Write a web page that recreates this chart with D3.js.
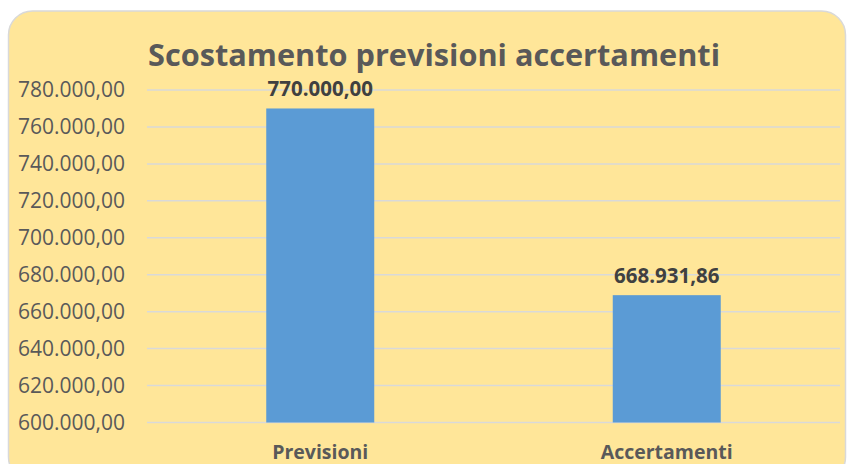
<!DOCTYPE html>
<html>
<head>
<meta charset="utf-8">
<script src="https://cdn.jsdelivr.net/npm/d3@7"></script>
<style>
  html, body { margin: 0; padding: 0; background: #fff; }
  svg { display: block; }
</style>
</head>
<body>
<svg id="chart" width="847" height="464"></svg>
<script>
// chart data
const categories = ["Previsioni", "Accertamenti"];
const values = [770000.00, 668931.86];
const yTicks = [600000, 620000, 640000, 660000, 680000, 700000, 720000, 740000, 760000, 780000];

const w = 847, h = 464;
const plot = { left: 147, right: 840, top: 90, bottom: 422.5 };
const font = "'Open Sans', 'DejaVu Sans', sans-serif";

// italian number format: 770.000,00
const it = d3.formatLocale({ decimal: ",", thousands: ".", grouping: [3], currency: ["€", ""] });
const fmt = it.format(",.2f");

const svg = d3.select("#chart");

// rounded panel
svg.append("rect")
  .attr("x", 8.5).attr("y", 11)
  .attr("width", 837).attr("height", 470)
  .attr("rx", 24).attr("ry", 24)
  .attr("fill", "#FFE699")
  .attr("stroke", "#D9D9D9")
  .attr("stroke-width", 1.5);

const x = d3.scaleBand()
  .domain(categories)
  .range([plot.left, plot.right]);

const y = d3.scaleLinear()
  .domain([600000, 780000])
  .range([plot.bottom, plot.top]);

// gridlines
svg.append("g")
  .selectAll("line")
  .data(yTicks)
  .join("line")
  .attr("x1", plot.left).attr("x2", plot.right)
  .attr("y1", d => y(d)).attr("y2", d => y(d))
  .attr("stroke", "#D9D9D9")
  .attr("stroke-width", 1.5);

// y axis labels
const yAxis = d3.axisLeft(y)
  .tickValues(yTicks)
  .tickSize(0)
  .tickPadding(0)
  .tickFormat(fmt);

svg.append("g")
  .attr("transform", `translate(125,0)`)
  .call(yAxis)
  .call(g => g.select(".domain").remove())
  .call(g => g.selectAll("text")
    .attr("fill", "#595959")
    .attr("font-family", font)
    .attr("font-size", "21px"));

// bars
const barW = 108;
svg.append("g")
  .selectAll("rect")
  .data(values)
  .join("rect")
  .attr("x", (d, i) => x(categories[i]) + x.bandwidth() / 2 - barW / 2)
  .attr("y", d => y(d))
  .attr("width", barW)
  .attr("height", d => y(600000) - y(d))
  .attr("fill", "#5B9BD5");

// value labels
svg.append("g")
  .selectAll("text")
  .data(values)
  .join("text")
  .attr("x", (d, i) => x(categories[i]) + x.bandwidth() / 2)
  .attr("y", d => y(d) - 12)
  .attr("text-anchor", "middle")
  .attr("fill", "#404040")
  .attr("font-family", font)
  .attr("font-weight", "700")
  .attr("font-size", "20.5px")
  .text(d => fmt(d));

// category labels
svg.append("g")
  .selectAll("text")
  .data(categories)
  .join("text")
  .attr("x", d => x(d) + x.bandwidth() / 2)
  .attr("y", 459)
  .attr("text-anchor", "middle")
  .attr("fill", "#595959")
  .attr("font-family", font)
  .attr("font-weight", "700")
  .attr("font-size", "19.5px")
  .text(d => d);

// title
svg.append("text")
  .attr("x", 434)
  .attr("y", 66)
  .attr("text-anchor", "middle")
  .attr("fill", "#595959")
  .attr("font-family", font)
  .attr("font-weight", "700")
  .attr("font-size", "30px")
  .attr("textLength", 572)
  .attr("lengthAdjust", "spacingAndGlyphs")
  .text("Scostamento previsioni accertamenti");
</script>
</body>
</html>
